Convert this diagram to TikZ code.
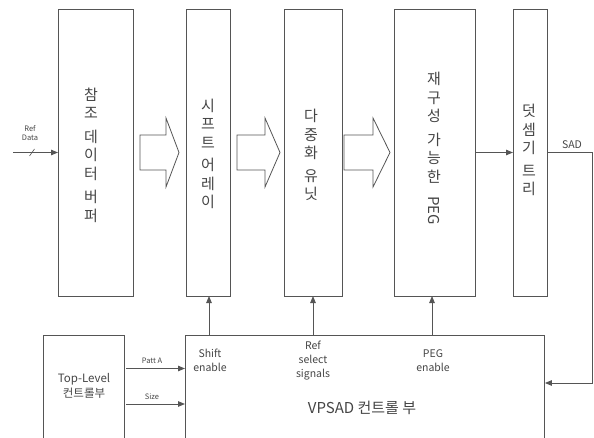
\documentclass[tikz,border=0pt]{standalone}
\usepackage{fontspec}
\setmainfont{Noto Sans CJK KR}
\usetikzlibrary{arrows.meta}
\definecolor{ln}{HTML}{555555}
\definecolor{tx}{HTML}{454545}
\begin{document}
\begin{tikzpicture}[x=1pt,y=-1pt,
  blk/.style={draw=ln,line width=0.9pt,minimum width=#1,anchor=north west,inner sep=0pt,minimum height=287pt},
  vtext/.style={text=tx,align=center,font=\fontsize{15}{18.5}\selectfont,inner sep=0pt},
  lab/.style={text=tx,font=\fontsize{10.5}{14}\selectfont,align=center,inner sep=0pt},
  small/.style={text=tx,font=\fontsize{7.5}{9}\selectfont,align=center,inner sep=0pt},
  conn/.style={draw=ln,line width=0.9pt,-{Triangle[length=7pt,width=5.5pt]}},
  wire/.style={draw=ln,line width=0.9pt},
  barrow/.style={draw=ln,line width=0.8pt,fill=white}]
\useasboundingbox (0,0) rectangle (594,438);
\clip (0,0) rectangle (594,438);
% upper blocks
\node[blk=75pt] (b1) at (58,9) {};
\node[blk=44pt] (b2) at (186,9) {};
\node[blk=58pt] (b3) at (284,9) {};
\node[blk=81pt] (b4) at (394,9) {};
\node[blk=34pt] (b5) at (513,9) {};
% lower blocks (clipped at bottom)
\node[draw=ln,line width=0.9pt,anchor=north west,minimum width=81pt,minimum height=120pt,inner sep=0pt] (tl) at (43,335) {};
\node[draw=ln,line width=0.9pt,anchor=north west,minimum width=359pt,minimum height=120pt,inner sep=0pt] (vp) at (185,335) {};
% vertical texts
\node[vtext] (t1) at (91,155) {참\\조\\[5pt]데\\이\\터\\[5pt]버\\퍼};
\node[vtext] (t2) at (208,154) {시\\프\\트\\[4pt]어\\레\\이};
\node[vtext] (t3) at (311,155) {다\\중\\화\\[4pt]유\\닛};
\node[vtext,anchor=north] (t4) at (434,72) {재\\구\\성\\[5pt]가\\능\\한};
\node[text=tx,font=\fontsize{15}{18}\selectfont,rotate=-90,inner sep=0pt,anchor=west] (t4b) at (434,196) {PEG};
\node[vtext] (t5) at (529,150) {덧\\셈\\기\\[4pt]트\\리};
% block arrows
\draw[barrow] (140,135) -- (166,135) -- (166,118) -- (179,152.5) -- (166,187) -- (166,170) -- (140,170) -- cycle;
\draw[barrow] (237,135) -- (265,135) -- (265,118) -- (280,152.5) -- (265,187) -- (265,170) -- (237,170) -- cycle;
\draw[barrow] (344,135) -- (373,135) -- (373,118) -- (390,152.5) -- (373,187) -- (373,170) -- (344,170) -- cycle;
% Ref Data input
\coordinate (rin) at (13,152.5);
\draw[conn] (rin) -- (b1.west |- rin);
\draw[wire,line width=0.6pt] (29.5,156) -- (34.5,149);
\node[small] (rd) at (30,133) {Ref\\Data};
% PEG -> adder
\draw[conn] (b4.east |- 0,152.5) -- (b5.west |- 0,152.5);
% SAD feedback
\coordinate (c1) at (592,152.5);
\coordinate (c2) at (592,383);
\draw[conn] (b5.east |- c1) -- (c1) -- (c2) -- (vp.east |- c2);
\node[lab,font=\fontsize{10.5}{12}\selectfont] (sad) at (572,145) {SAD};
% control arrows up
\draw[conn] (209,335) -- (209,296);
\draw[conn] (313,335) -- (313,296);
\draw[conn] (432,335) -- (432,296);
% labels in VPSAD
\node[lab] (se) at (210,360) {Shift\\enable};
\node[lab] (rs) at (313,361) {Ref\\select\\signals};
\node[lab] (pe) at (433,361) {PEG\\enable};
\node[text=tx,font=\fontsize{15}{18}\selectfont,inner sep=0pt] (vl) at (362,408) {VPSAD 컨트롤 부};
% Top-level
\node[lab,font=\fontsize{11.5}{15}\selectfont] (tlt) at (84,386) {Top-Level\\컨트롤부};
\coordinate (p1) at (126,368.5);
\coordinate (p2) at (126,404);
\draw[conn] (p1) -- (vp.west |- p1);
\draw[conn] (p2) -- (vp.west |- p2);
\node[small] (pa) at (152,361) {Patt A};
\node[small] (sz) at (152,397) {Size};
\end{tikzpicture}
\end{document}
